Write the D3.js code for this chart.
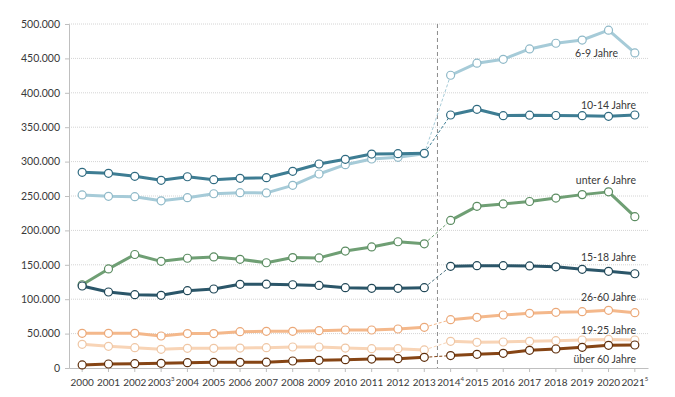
<!DOCTYPE html>
<html>
<head>
<meta charset="utf-8">
<script src="https://cdn.jsdelivr.net/npm/d3@7"></script>
<style>
  body { margin: 0; background: #fff; }
  svg text { font-family: Lato, "Noto Sans", sans-serif; fill: #3a3a3a; }
</style>
</head>
<body>
<div class="svg-target"></div>
<script>
// Categories (years) and footnote marks on tick labels
const years = ['2000','2001','2002','2003','2004','2005','2006','2007','2008','2009','2010',
               '2011','2012','2013','2014','2015','2016','2017','2018','2019','2020','2021'];
const yearNotes = {'2003': '3', '2014': '4', '2021': '5'};

const yTicks = [0, 50000, 100000, 150000, 200000, 250000, 300000, 350000, 400000, 450000, 500000];

// Series values
const unter6 = [121000, 144000, 165000, 155000, 159500, 161500, 158000, 153000, 160500, 160000, 170000,
                176000, 183500, 180500, 214500, 235000, 238500, 242000, 247000, 252000, 256000, 220000];
const jahre6_9 = [251500, 249500, 249000, 243000, 247500, 253300, 254800, 254500, 265500, 282000, 295500,
                  303800, 306200, 311500, 425500, 443000, 448700, 463700, 472000, 476700, 491000, 458000];
const jahre10_14 = [284400, 283000, 278600, 272800, 278000, 273700, 275700, 276600, 285900, 296500, 303300,
                    311000, 311500, 312000, 367700, 376000, 366700, 367500, 367000, 366800, 365800, 367700];
const jahre15_18 = [119200, 110500, 106600, 105700, 112400, 114800, 121600, 121800, 121000, 120000, 116700,
                    115800, 115800, 116700, 147800, 148700, 148700, 148300, 147000, 143400, 140500, 137000];
const jahre19_25 = [34400, 31500, 29500, 27100, 28600, 28600, 29000, 29500, 30500, 30500, 29000,
                    28100, 28100, 26200, 38800, 37300, 37800, 38800, 39700, 40700, 41600, 40700];
const jahre26_60 = [50400, 50400, 50400, 46500, 50000, 50000, 52800, 53300, 53300, 54200, 55200,
                    55200, 56700, 59100, 70200, 73600, 77000, 79500, 80900, 81900, 83800, 80400];
const ueber60 = [4400, 5800, 6300, 6800, 7800, 8200, 8200, 8400, 10200, 11200, 12100,
                 13000, 13600, 15500, 18000, 19900, 21300, 25700, 27600, 30000, 33000, 33400];

const seriesNames = ['unter 6 Jahre', '6-9 Jahre', '10-14 Jahre', '15-18 Jahre', '19-25 Jahre', '26-60 Jahre', 'über 60 Jahre'];
const seriesValues = [unter6, jahre6_9, jahre10_14, jahre15_18, jahre19_25, jahre26_60, ueber60];

// Styles
const lineColors = ['#6f9f74', '#a6cbd8', '#3e7d93', '#2b5669', '#f8d4b6', '#f4b88b', '#864515'];
const markerStroke = ['#5b8c61', '#8fb9c8', '#2f6a80', '#1f4656', '#efc6a4', '#eba878', '#5e2e0b'];
// label anchor (right edge) and baseline
const labelPos = [[636, 184], [618, 57], [636, 109], [636, 261], [636, 334], [636, 301], [636, 363]];

const w = 675;
const h = 397;
const padding = {t: 24, r: 27, b: 29, l: 69};

const svg = d3.select('.svg-target')
    .append('svg')
    .attr('width', w)
    .attr('height', h);

const xScale = d3.scaleBand()
    .domain(years)
    .range([padding.l, w - padding.r])
    .padding(0);
const xc = d => xScale(d) + xScale.bandwidth() / 2;

const yScale = d3.scaleLinear()
    .domain([0, 500000])
    .range([h - padding.b, padding.t]);

const fmt = v => v === 0 ? '0' : d3.format(',')(v).replace(/,/g, '.');

// gridlines
svg.append('g')
    .selectAll('line')
    .data(yTicks.slice(1))
    .join('line')
    .attr('x1', padding.l)
    .attr('x2', w - padding.r)
    .attr('y1', d => yScale(d))
    .attr('y2', d => yScale(d))
    .attr('stroke', '#d4d4d4')
    .attr('stroke-width', 1)
    .attr('stroke-dasharray', '1,1');

// y axis
const yAxis = d3.axisLeft(yScale).tickValues(yTicks).tickSize(4).tickFormat(fmt);
const yg = svg.append('g')
    .attr('transform', `translate(${padding.l}, 0)`)
    .call(yAxis);
yg.select('.domain').attr('stroke', '#bfbfbf');
yg.selectAll('.tick line').attr('stroke', '#bfbfbf');
yg.selectAll('.tick text').attr('font-size', 10.5).attr('x', -9);

// x axis
const xAxis = d3.axisBottom(xScale).tickSize(4).tickSizeOuter(0).tickFormat('');
const xg = svg.append('g')
    .attr('transform', `translate(0, ${h - padding.b})`)
    .call(xAxis);
xg.select('.domain').attr('stroke', '#bfbfbf');
xg.selectAll('.tick line').attr('stroke', '#bfbfbf');
xg.selectAll('.tick').each(function(d) {
    const t = d3.select(this).append('text')
        .attr('y', 18)
        .attr('text-anchor', 'middle')
        .attr('font-size', 10)
        .attr('fill', '#3a3a3a');
    t.append('tspan').text(d);
    if (yearNotes[d]) {
        t.append('tspan').attr('font-size', 6).attr('dy', -5).text(yearNotes[d]);
    }
});

// break line between 2013 and 2014
const breakX = xScale('2014');
svg.append('line')
    .attr('x1', breakX).attr('x2', breakX)
    .attr('y1', padding.t).attr('y2', h - padding.b)
    .attr('stroke', '#8c8c8c')
    .attr('stroke-width', 1)
    .attr('stroke-dasharray', '4,3');

const line = d3.line().x(d => xc(d.year)).y(d => yScale(d.v));
const splitIdx = years.indexOf('2014');

seriesValues.forEach((vals, i) => {
    const pts = vals.map((v, j) => ({year: years[j], v: v}));
    const g = svg.append('g');
    // dashed connector over the break
    g.append('path')
        .attr('d', line(pts.slice(splitIdx - 1, splitIdx + 1)))
        .attr('fill', 'none')
        .attr('stroke', lineColors[i] === '#2b5669' ? '#4f7482' : lineColors[i])
        .attr('stroke-width', 1)
        .attr('stroke-dasharray', '3,2');
    [pts.slice(0, splitIdx), pts.slice(splitIdx)].forEach(seg => {
        g.append('path')
            .attr('d', line(seg))
            .attr('fill', 'none')
            .attr('stroke', lineColors[i])
            .attr('stroke-width', 3)
            .attr('stroke-linejoin', 'round');
    });
    g.selectAll('circle')
        .data(pts)
        .join('circle')
        .attr('cx', d => xc(d.year))
        .attr('cy', d => yScale(d.v))
        .attr('r', 4)
        .attr('fill', '#ffffff')
        .attr('stroke', markerStroke[i])
        .attr('stroke-width', 1.2);
    svg.append('text')
        .attr('x', labelPos[i][0])
        .attr('y', labelPos[i][1])
        .attr('text-anchor', 'end')
        .attr('font-size', 10.5)
        .text(seriesNames[i]);
});
</script>
</body>
</html>
